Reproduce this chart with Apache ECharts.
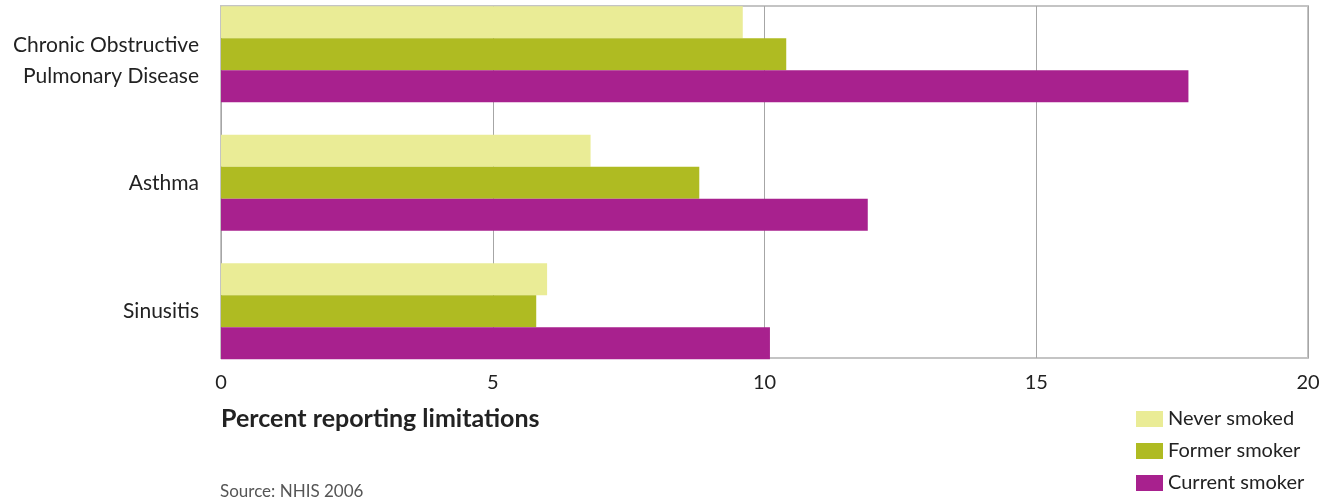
<!DOCTYPE html>
<html><head><meta charset="utf-8">
<script src="https://cdn.jsdelivr.net/npm/echarts@6/dist/echarts.min.js"></script>
<style>html,body{margin:0;padding:0;background:#fff}#c{width:1335px;height:499px}</style>
</head><body><div id="c"></div>
<script>
const categories = ["Chronic Obstructive\nPulmonary Disease", "Asthma", "Sinusitis"];
const seriesNames = ["Never smoked", "Former smoker", "Current smoker"];
const neverSmoked = [9.6, 6.8, 6.0];
const formerSmoker = [10.4, 8.8, 5.8];
const currentSmoker = [17.8, 11.9, 10.1];
const xTicks = [0, 5, 10, 15, 20];
const colors = ["#eaec96", "#afbb22", "#a8218e"];
const font = "Lato";

const chart = echarts.init(document.getElementById('c'), null, {renderer: 'canvas'});
const values = [neverSmoked, formerSmoker, currentSmoker];
chart.setOption({
  animation: false,
  textStyle: {fontFamily: font},
  legend: {
    orient: 'vertical', left: 1136, top: 407, height: 120, padding: 0, itemWidth: 27, itemHeight: 16, itemGap: 8,
    icon: 'rect',
    textStyle: {fontSize: 20, color: '#222', fontFamily: font, lineHeight: 24},
    data: seriesNames
  },
  grid: [
    {left: 221, top: -10, width: 1087, height: 385.5, show: false, outerBoundsMode: 'none', containLabel: false},
    {left: 221, top: 6, width: 1087, height: 352, show: true, borderColor: '#c4c4c4', borderWidth: 2, z: 0, outerBoundsMode: 'none', containLabel: false}
  ],
  xAxis: [
    {gridIndex: 0, type: 'value', min: 0, max: 20, interval: 5, show: false},
    {gridIndex: 1, type: 'value', min: 0, max: 20, interval: 5,
     axisLine: {show: false}, axisTick: {show: false},
     axisLabel: {fontSize: 20, color: '#222', margin: 15, fontFamily: font},
     splitLine: {show: true, lineStyle: {color: '#a6a6a6', width: 1}},
     name: 'Percent reporting limitations', nameLocation: 'start', nameGap: 0,
     nameTextStyle: {fontSize: 25, fontWeight: 'bold', color: '#222', align: 'left', verticalAlign: 'top', padding: [48, 0, 0, 0], fontFamily: font}
    }
  ],
  yAxis: [
    {gridIndex: 0, type: 'category', data: categories, inverse: true,
     axisLine: {show: false}, axisTick: {show: false},
     axisLabel: {fontSize: 21, color: '#222', margin: 22, lineHeight: 31, align: 'right', fontFamily: font,
       formatter: (v, i) => i === 0 ? '{gap|}\n' + v : v,
       rich: {gap: {lineHeight: 13, fontSize: 1}}}},
    {gridIndex: 1, type: 'value', show: false}
  ],
  graphic: [{type: 'text', left: 220, top: 483, style: {text: 'Source: NHIS 2006', fontSize: 17, fill: '#555', fontFamily: font}}],
  series: seriesNames.map((n, i) => ({
    name: n, type: 'bar', xAxisIndex: 0, yAxisIndex: 0,
    data: values[i], barWidth: 32, barGap: '0%',
    itemStyle: {color: colors[i]}, z: 5
  }))
});
</script></body></html>
